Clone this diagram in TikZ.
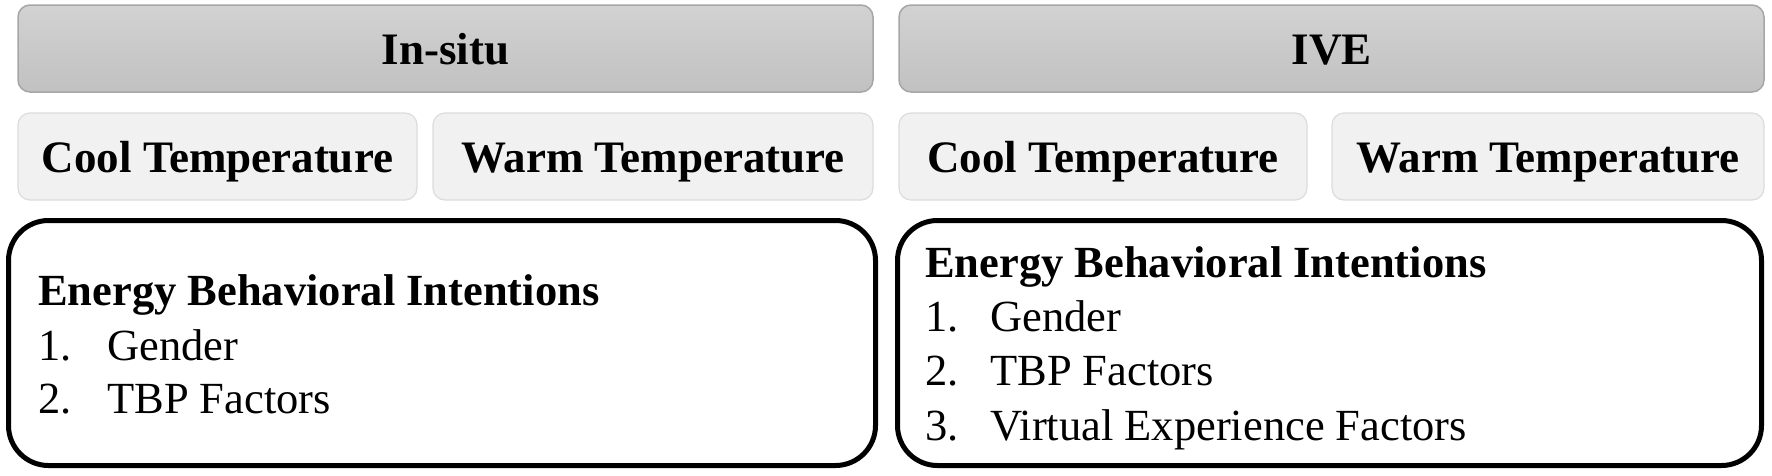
\documentclass[tikz,border=0pt]{standalone}
\usepackage{fontspec}
\setmainfont{Liberation Serif}
\definecolor{hdrtop}{HTML}{D2D2D2}
\definecolor{hdrbot}{HTML}{C1C1C1}
\definecolor{hdrline}{HTML}{A6A6A6}
\definecolor{subfill}{HTML}{F1F1F1}
\definecolor{subline}{HTML}{DCDCDC}
\begin{document}
\begin{tikzpicture}[x=1pt,y=-1pt,
  hdr/.style={draw=hdrline,line width=1.5pt,top color=hdrtop,bottom color=hdrbot,
    rounded corners=12pt,minimum height=87pt,inner sep=0pt,text height=31pt,text depth=0pt,
    font=\fontsize{45}{54}\selectfont\bfseries},
  sub/.style={draw=subline,line width=1.2pt,fill=subfill,
    rounded corners=12pt,minimum height=87pt,inner sep=0pt,text height=31pt,text depth=0pt,
    font=\fontsize{45}{54}\selectfont\bfseries},
  bigbox/.style={draw=black,line width=5pt,fill=white,rounded corners=40pt,
    minimum height=245pt,inner sep=0pt},
  heading/.style={anchor=base west,inner sep=0pt,font=\fontsize{44.5}{54}\selectfont\bfseries},
  item/.style={anchor=base west,inner sep=0pt,font=\fontsize{44.5}{54}\selectfont}
]
\useasboundingbox (0,0) rectangle (1772,475);
\fill[white] (0,0) rectangle (1772,475);

% headers
\node[hdr,minimum width=855pt] (insitu) at (445.5,48.5) {In-situ};
\node[hdr,minimum width=865pt] (ive) at (1331.5,48.5) {IVE};

% sub headers
\node[sub,minimum width=399pt] (coolL) at (217.5,156.5) {Cool Temperature};
\node[sub,minimum width=440pt] (warmL) at (653,156.5) {Warm Temperature};
\node[sub,minimum width=408pt] (coolR) at (1103,156.5) {Cool Temperature};
\node[sub,minimum width=432pt] (warmR) at (1548,156.5) {Warm Temperature};

% big boxes
\node[bigbox,minimum width=867pt] (boxL) at (442,343) {};
\node[bigbox,minimum width=864pt] (boxR) at (1329.5,343) {};

% left content
\node[heading] (hL) at (38,305) {Energy Behavioral Intentions};
\node[item] (l1) at (38,360) {\makebox[69pt][l]{1.}Gender};
\node[item] (l2) at (38,413) {\makebox[69pt][l]{2.}TBP Factors};

% right content
\node[heading] (hR) at (925,277) {Energy Behavioral Intentions};
\node[item] (r1) at (925,331) {\makebox[65pt][l]{1.}Gender};
\node[item] (r2) at (925,385) {\makebox[65pt][l]{2.}TBP Factors};
\node[item] (r3) at (925,440) {\makebox[65pt][l]{3.}Virtual Experience Factors};
\end{tikzpicture}
\end{document}
